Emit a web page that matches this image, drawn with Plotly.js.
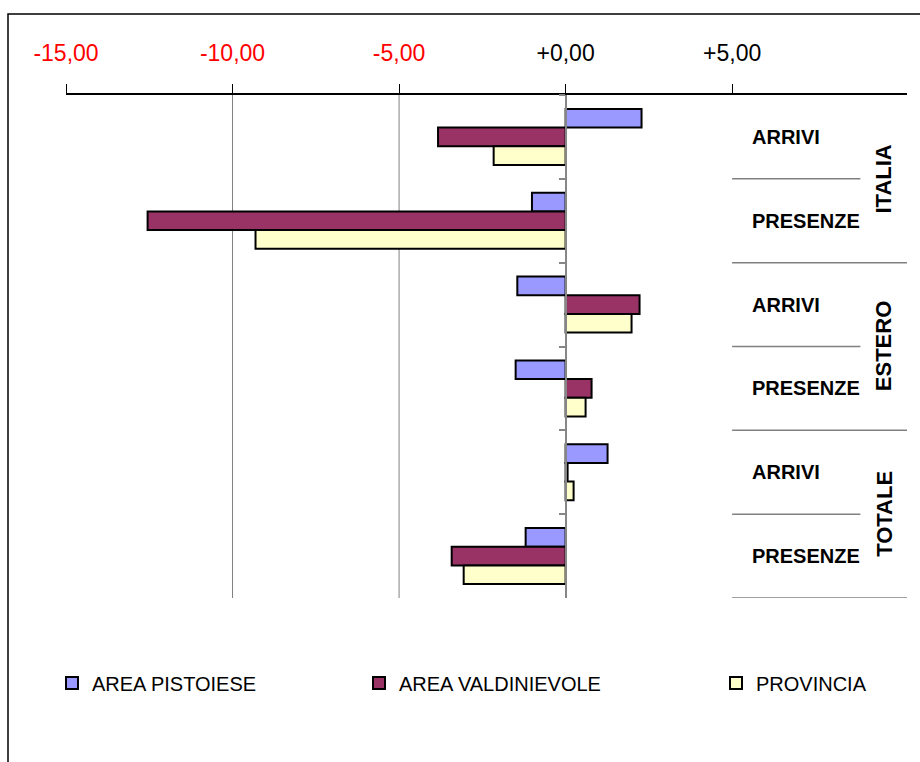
<!DOCTYPE html>
<html>
<head>
<meta charset="utf-8">
<script src="https://cdn.plot.ly/plotly-3.0.1.min.js"></script>
<style>
  html, body { margin: 0; padding: 0; background: #fff; }
  #chart { width: 920px; height: 762px; }
</style>
</head>
<body>
<div id="chart"></div>
<script>
// Variazioni percentuali di arrivi e presenze per area
const groups = ['ITALIA', 'ESTERO', 'TOTALE'];
const measures = ['ARRIVI', 'PRESENZE'];
const seriesNames = ['AREA PISTOIESE', 'AREA VALDINIEVOLE', 'PROVINCIA'];

// one value per category, top to bottom: Italia arrivi/presenze, Estero arrivi/presenze, Totale arrivi/presenze
const areaPistoiese    = [2.28, -1.01, -1.45, -1.50, 1.26, -1.20];
const areaValdinievole = [-3.83, -12.55, 2.22, 0.78, 0.06, -3.42];
const provincia        = [-2.16, -9.31, 1.98, 0.60, 0.24, -3.06];

const tickValues = [-15, -10, -5, 0, 5];
const gridValues = [-10, -5];

const categories = [];
groups.forEach(g => measures.forEach(m => categories.push(g + ' ' + m)));

const fmt = v => (v >= 0 ? '+' : '-') + Math.abs(v).toFixed(2).replace('.', ',');
const tickText = tickValues.map(v =>
  v < 0 ? '<span style="color:#ff0000">' + fmt(v) + '</span>' : fmt(v));

const colors = ['#9999ff', '#993366', '#ffffcc'];
const values = [areaPistoiese, areaValdinievole, provincia];
const legendIds = ['legend', 'legend2', 'legend3'];

const traces = values.map((vals, i) => ({
  type: 'bar',
  orientation: 'h',
  name: seriesNames[i],
  x: vals,
  y: categories,
  marker: { color: colors[i], line: { color: '#000000', width: 2 } },
  legend: legendIds[i],
  hoverinfo: 'x+name'
}));

const FONT = 'Liberation Sans, Arial, sans-serif';
const xMax = 10.25;

const shapes = [];
// vertical grid lines
gridValues.forEach(v => shapes.push({
  type: 'line', xref: 'x', yref: 'paper', x0: v, x1: v, y0: 0, y1: 1,
  line: { color: '#808080', width: 1 }, layer: 'below'
}));
// separators for the category labels on the right
for (let k = 0; k < categories.length; k++) {
  const yb = k + 0.5;
  const longLine = (k % 2 === 1);
  shapes.push({
    type: 'line', xref: 'x', yref: 'y', x0: 5, x1: longLine ? xMax : 8.85, y0: yb, y1: yb,
    line: { color: '#808080', width: 1.5 }
  });
}
// outer frame (top and left edges)
shapes.push({
  type: 'path', xref: 'paper', yref: 'paper',
  path: 'M ' + ((920 + 2 - 66) / 841) + ' ' + ((598 - 14) / 503) +
        ' L ' + ((8 - 66) / 841) + ' ' + ((598 - 14) / 503) +
        ' L ' + ((8 - 66) / 841) + ' ' + ((598 - 764) / 503),
  line: { color: '#000000', width: 1.5 }
});

const annotations = [];
categories.forEach((c, k) => {
  annotations.push({
    xref: 'x', yref: 'y', x: 5.55, y: k, xanchor: 'left', yanchor: 'middle',
    text: '<b>' + measures[k % 2] + '</b>', showarrow: false,
    font: { family: FONT, size: 20, color: '#000000' }
  });
});
groups.forEach((g, j) => {
  annotations.push({
    xref: 'x', yref: 'y', x: 9.55, y: j * 2 + 0.5, xanchor: 'center', yanchor: 'middle',
    text: '<b>' + g + '</b>', textangle: -90, showarrow: false,
    font: { family: FONT, size: 22, color: '#000000' }
  });
});

const legendBase = {
  orientation: 'h', yanchor: 'middle', xanchor: 'left', y: -0.169,
  font: { family: FONT, size: 20, color: '#000000' },
  bgcolor: 'rgba(0,0,0,0)', borderwidth: 0
};

const layout = {
  width: 920, height: 762,
  margin: { l: 66, r: 13, t: 95, b: 164, pad: 0 },
  paper_bgcolor: '#ffffff',
  plot_bgcolor: '#ffffff',
  font: { family: FONT, color: '#000000' },
  barmode: 'group',
  bargap: 0.333,
  bargroupgap: 0,
  xaxis: {
    side: 'top',
    range: [-15, xMax],
    tickvals: tickValues,
    ticktext: tickText,
    ticks: 'outside', ticklen: 9, tickwidth: 1, tickcolor: '#000000',
    showline: true, linecolor: '#000000', linewidth: 1.5,
    showgrid: false, zeroline: false,
    tickfont: { family: FONT, size: 23, color: '#000000' },
    ticklabelstandoff: 14,
    fixedrange: true
  },
  yaxis: {
    type: 'category',
    range: [5.5, -0.5],
    anchor: 'free',
    position: (566 - 66) / 841,
    showline: true, linecolor: '#868686', linewidth: 2,
    ticks: 'outside', tickson: 'boundaries', ticklen: 6, tickcolor: '#868686', tickwidth: 1.5,
    showticklabels: false, showgrid: false, zeroline: false,
    fixedrange: true
  },
  legend: Object.assign({}, legendBase, { x: (52 - 66) / 841 }),
  legend2: Object.assign({}, legendBase, { x: (359 - 66) / 841 }),
  legend3: Object.assign({}, legendBase, { x: (716 - 66) / 841 }),
  shapes: shapes,
  annotations: annotations,
  showlegend: true
};

Plotly.newPlot('chart', traces, layout, { displayModeBar: false, staticPlot: false });
</script>
</body>
</html>
